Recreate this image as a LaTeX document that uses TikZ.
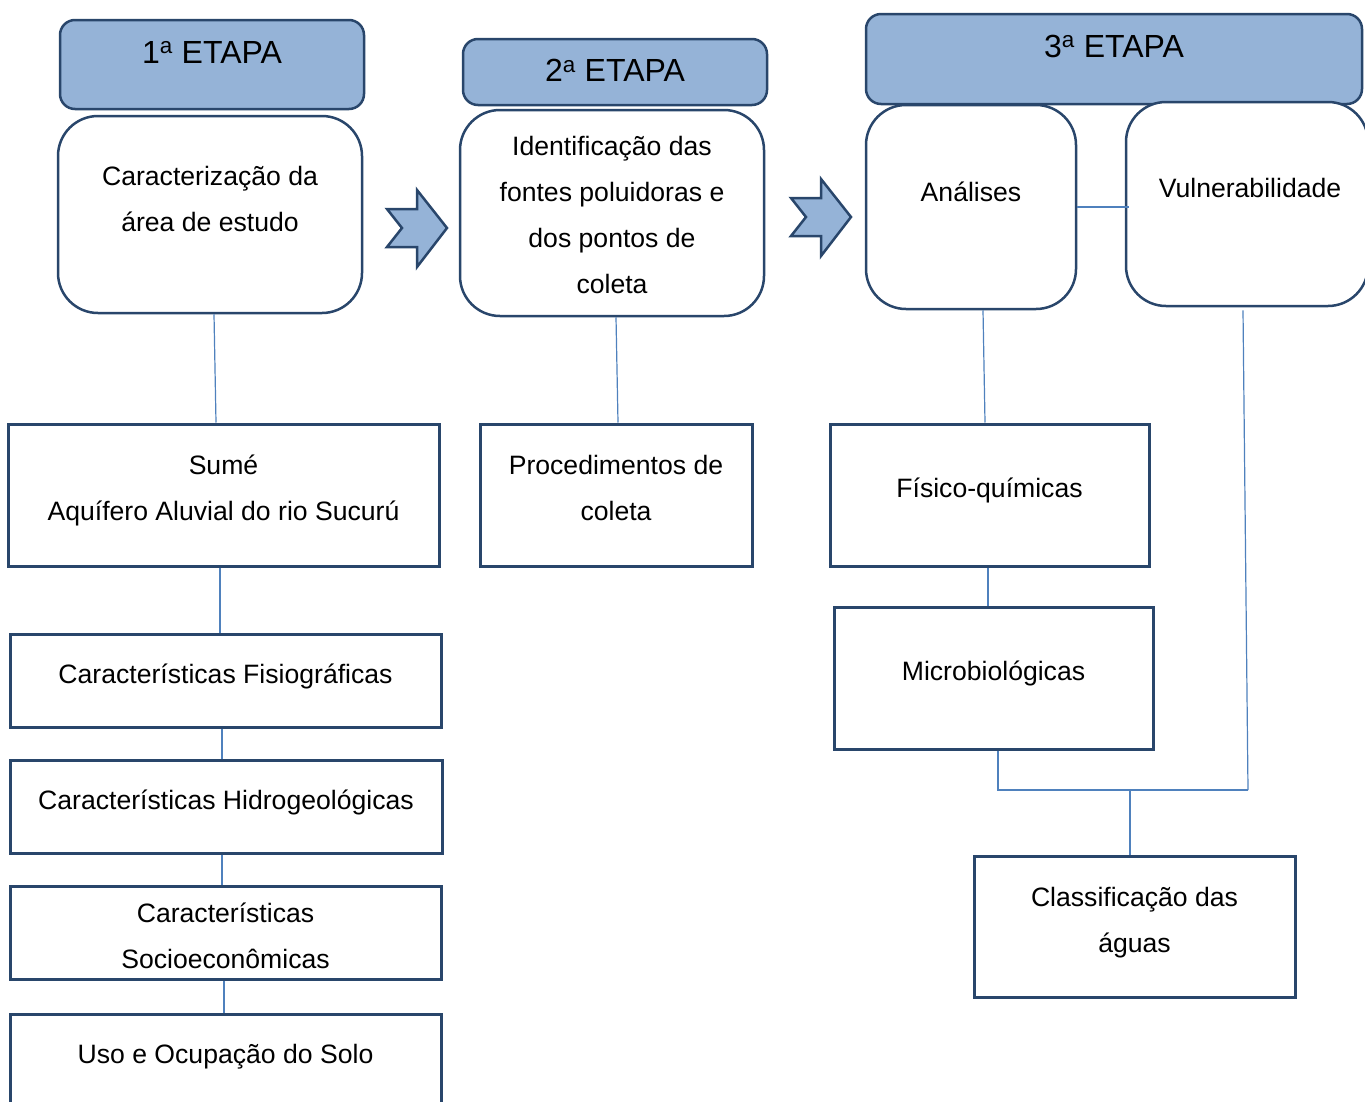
\documentclass[tikz,border=0pt]{standalone}
\usepackage{fontspec}
\setmainfont{Liberation Sans}
\definecolor{headfill}{RGB}{149,179,215}
\definecolor{edge}{RGB}{41,70,107}
\definecolor{linkblue}{RGB}{79,129,189}
\begin{document}
\begin{tikzpicture}[x=1pt,y=-1pt,
    head/.style={draw=edge,fill=headfill,line width=2.5pt,rounded corners=15pt,inner sep=0pt},
    rbox/.style={draw=edge,fill=white,line width=2.5pt,rounded corners=40pt,inner sep=0pt},
    sbox/.style={draw=edge,fill=white,line width=3pt,inner sep=0pt},
    txt/.style={align=center,font=\fontsize{26.6}{46}\selectfont},
    htxt/.style={font=\fontsize{32}{38}\selectfont},
    link/.style={draw=linkblue,line width=1.2pt},
    chev/.style={draw=edge,fill=headfill,line width=2.5pt,line join=miter}]
    \useasboundingbox (0,0) rectangle (1365,1101);
    % headers
    \node[head,minimum width=304pt,minimum height=89pt] (h1) at (212,64.5) {};
    \node[htxt] (h1t) at (212,52) {1\textsuperscript{a} ETAPA};
    \node[head,minimum width=304pt,minimum height=66pt] (h2) at (615,72) {};
    \node[htxt] (h2t) at (615,70) {2\textsuperscript{a} ETAPA};
    \node[head,minimum width=496pt,minimum height=90pt] (h3) at (1114,59) {};
    \node[htxt] (h3t) at (1114,46) {3\textsuperscript{a} ETAPA};
    % stage boxes
    \node[rbox,minimum width=304pt,minimum height=197pt] (b1) at (210,214.5) {};
    \node[txt] (b1t) at (210,199) {Caracterização da\\área de estudo};
    \node[rbox,minimum width=304pt,minimum height=206pt] (b2) at (612,213) {};
    \node[txt] (b2t) at (612,215) {Identificação das\\fontes poluidoras e\\dos pontos de\\coleta};
    \node[rbox,minimum width=210pt,minimum height=204pt] (b3a) at (971,207) {};
    \node[txt] (b3at) at (971,192) {Análises};
    \node[rbox,minimum width=242pt,minimum height=204pt] (b3b) at (1247,204) {};
    \node[txt] (b3bt) at (1250,188) {Vulnerabilidade};
    % block arrows
    \foreach \ax/\ay in {387/228,791/217}
        \draw[chev] (\ax,\ay-19) -- ++(30,0) -- ++(0,-19) -- ++(30,38) -- ++(-30,39)
            -- ++(0,-20) -- ++(-30,0) -- ++(15,-19) -- cycle;
    % first column
    \node[sbox,minimum width=431pt,minimum height=142pt] (sume) at (223.5,495) {};
    \node[txt] (sumet) at (223.5,490) {Sumé\\Aquífero Aluvial do rio Sucurú};
    \node[sbox,minimum width=431pt,minimum height=93pt] (fisio) at (225.5,680.5) {};
    \node[txt] (fisiot) at (225.5,676) {Características Fisiográficas};
    \node[sbox,minimum width=432pt,minimum height=93pt] (hidro) at (226,806.5) {};
    \node[txt] (hidrot) at (226,802) {Características Hidrogeológicas};
    \node[sbox,minimum width=431pt,minimum height=93pt] (socio) at (225.5,932.5) {};
    \node[txt] (sociot) at (225.5,936) {Características\\Socioeconômicas};
    \node[sbox,minimum width=431pt,minimum height=142pt] (uso) at (225.5,1085) {};
    \node[txt] (usot) at (225.5,1057) {Uso e Ocupação do Solo};
    % second column
    \node[sbox,minimum width=272pt,minimum height=142pt] (proc) at (616,495) {};
    \node[txt] (proct) at (616,488) {Procedimentos de\\coleta};
    % third column
    \node[sbox,minimum width=319pt,minimum height=142pt] (fis) at (989.5,495) {};
    \node[txt] (fist) at (989.5,490) {Físico-químicas};
    \node[sbox,minimum width=319pt,minimum height=142pt] (micro) at (993.5,678) {};
    \node[txt] (microt) at (993.5,673) {Microbiológicas};
    \node[sbox,minimum width=321pt,minimum height=141pt] (classif) at (1134.5,926.5) {};
    \node[txt] (classift) at (1134.5,923) {Classificação das\\águas};
    \coordinate (join) at (1248,790);
    % connectors
    \draw[link] ([xshift=4pt]b1.south) -- ([xshift=-7.5pt]sume.north);
    \draw[link] ([xshift=-3.5pt]sume.south) -- ([xshift=-5.5pt]fisio.north);
    \draw[link] ([xshift=-3.5pt]fisio.south) -- ([xshift=-4pt]hidro.north);
    \draw[link] ([xshift=-4pt]hidro.south) -- ([xshift=-3.5pt]socio.north);
    \draw[link] ([xshift=-1.5pt]socio.south) -- ([xshift=-1.5pt]uso.north);
    \draw[link] ([xshift=4pt]b2.south) -- ([xshift=2pt]proc.north);
    \draw[link] ([xshift=12pt]b3a.south) -- ([xshift=-4.5pt]fis.north);
    \draw[link] ([xshift=-1.5pt]fis.south) -- ([xshift=-5.5pt]micro.north);
    \draw[link] (b3a.east) -- ([xshift=4pt]b3a.east -| b3b.west);
    \draw[link] ([xshift=4.5pt]micro.south) |- (join);
    \draw[link] (join) -- ([xshift=-4pt,yshift=-3pt]b3b.south);
    \draw[link] ([xshift=-4.5pt]classif.north) -- ([xshift=-4.5pt]classif.north |- join);
\end{tikzpicture}
\end{document}
